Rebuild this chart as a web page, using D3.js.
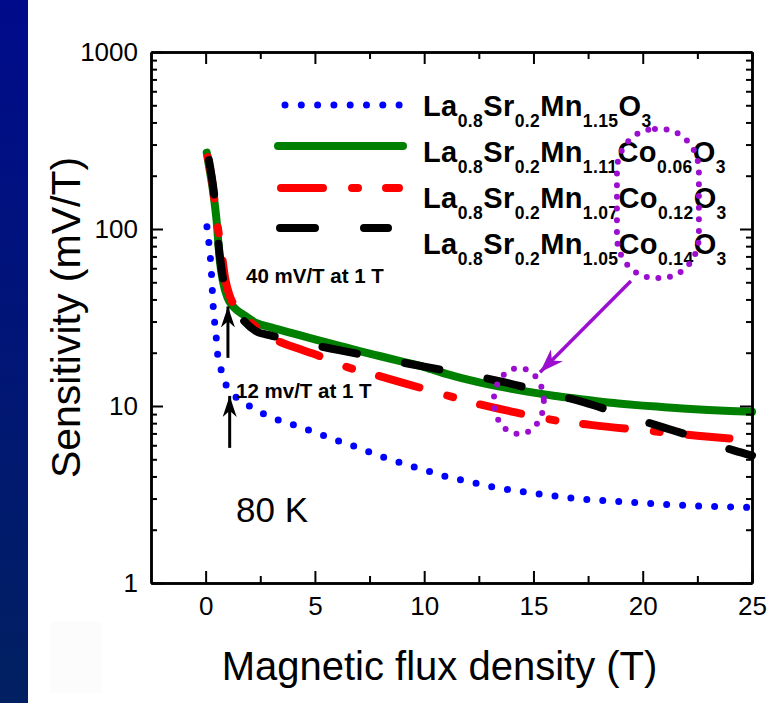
<!DOCTYPE html>
<html>
<head>
<meta charset="utf-8">
<script src="https://cdn.jsdelivr.net/npm/d3@7"></script>
<style>
  body { margin: 0; background: #ffffff; }
  svg { display: block; }
  text { font-family: "Liberation Sans", Arial, sans-serif; }
</style>
</head>
<body>
<div class="sensitivity-chart"></div>
<script>

// ---- data (T, mV/T) ----
const fieldMn115 = [0.06, 0.15, 0.22, 0.27, 0.31, 0.35, 0.42, 0.5, 0.56, 0.75, 0.95, 1.4, 2, 2.75, 3.5, 4.2, 5, 6, 7, 8, 9, 10, 11, 12, 13, 14, 15, 16, 17, 18, 19, 20, 21, 22, 23, 24, 25]
const sensMn115 = [103, 83, 68, 55, 44, 36, 29, 23.3, 19, 15.5, 13, 11.2, 10, 8.9, 8.2, 7.7, 7.1, 6.4, 5.8, 5.2, 4.75, 4.35, 4.0, 3.75, 3.52, 3.35, 3.22, 3.1, 3.0, 2.93, 2.88, 2.83, 2.78, 2.74, 2.71, 2.69, 2.67]

const fieldCo006 = [0.05, 0.2, 0.35, 0.5, 0.65, 0.8, 1, 1.3, 1.7, 2.3, 3, 4, 5, 6, 7, 8, 9, 10, 11, 12, 13, 14, 15, 16, 17, 18, 19, 20, 21, 22, 23, 24, 25]
const sensCo006 = [270, 210, 160, 112, 66, 50, 41, 36, 33, 29.5, 27.8, 25.7, 23.8, 22.1, 20.5, 19.1, 17.8, 16.6, 15.2, 14.1, 13.2, 12.5, 11.9, 11.4, 11.0, 10.6, 10.3, 10.05, 9.85, 9.65, 9.5, 9.38, 9.28]

const fieldCo012 = [0.1, 0.3, 0.5, 0.72, 0.9, 1.1, 1.5, 2, 2.5, 3.4, 4, 5, 6.6, 8, 10, 12.7, 14, 15.1, 16, 17.7, 20, 22.5, 24.3, 25]
const sensCo012 = [255, 185, 115, 75, 52, 42, 35, 30, 27, 23, 21.6, 19.6, 16.4, 14.7, 12.5, 10.1, 9.3, 8.7, 8.3, 7.8, 7.3, 6.8, 6.5, 6.4]

const fieldCo014 = [0.15, 0.4, 0.6, 0.8, 1, 1.5, 2.3, 3, 4, 5, 6.1, 8, 10, 12, 13.6, 15, 17.3, 19, 20.9, 22, 24.2, 25]
const sensCo014 = [245, 152, 80, 52, 41, 33, 26.5, 25, 23.5, 22, 20.7, 18.6, 16.7, 15.0, 13.7, 12.4, 10.5, 9.0, 7.6, 6.9, 5.6, 5.25]

const xMajorTicks = [0, 5, 10, 15, 20, 25]
const xMinorTicks = [2.5, 7.5, 12.5, 17.5, 22.5]
const yMajorTicks = [1, 10, 100, 1000]
const yMinorTicks = [2, 3, 4, 5, 6, 7, 8, 9, 20, 30, 40, 50, 60, 70, 80, 90, 200, 300, 400, 500, 600, 700, 800, 900]

const seriesNames = ["Mn115", "Co006", "Co012", "Co014"]
const seriesColors = ["#0000ff", "#008000", "#ff0000", "#000000"]
const legendLabels = [
    [["La", "0.8"], ["Sr", "0.2"], ["Mn", "1.15"], ["O", "3"]],
    [["La", "0.8"], ["Sr", "0.2"], ["Mn", "1.11"], ["Co", "0.06"], ["O", "3"]],
    [["La", "0.8"], ["Sr", "0.2"], ["Mn", "1.07"], ["Co", "0.12"], ["O", "3"]],
    [["La", "0.8"], ["Sr", "0.2"], ["Mn", "1.05"], ["Co", "0.14"], ["O", "3"]]
]

// annotation arrows (T, mV/T): [x0, y0, x1 (tip), y1 (tip)]
const blackArrows = [[1.02, 18.7, 1.02, 36.5], [1.1, 5.8, 1.1, 11.4]]
const purpleArrow = [19.46, 50.9, 15.3, 15.5]

const width = 773
const height = 703
const margin = { top: 52, right: 21, bottom: 120, left: 151 }

const zip = (xs, ys) => xs.map((x, i) => ({ field: x, sens: ys[i] }))
const seriesData = [
    zip(fieldMn115, sensMn115),
    zip(fieldCo006, sensCo006),
    zip(fieldCo012, sensCo012),
    zip(fieldCo014, sensCo014)
]

const x = d3.scaleLinear()
    .domain([-2.5, 25])
    .range([margin.left, width - margin.right])
const y = d3.scaleLog()
    .domain([1, 1000])
    .range([height - margin.bottom, margin.top])

const svg = d3.select(".sensitivity-chart")
    .append("svg")
    .attr("width", width)
    .attr("height", height)

const defs = svg.append("defs")
const grad = defs.append("linearGradient")
    .attr("id", "sideGrad")
    .attr("x1", 0).attr("y1", 0).attr("x2", 0).attr("y2", 1)
grad.append("stop").attr("offset", "0%").attr("stop-color", "#000b8b")
grad.append("stop").attr("offset", "100%").attr("stop-color", "#012061")

function addHead(id, color, len, wide) {
    defs.append("marker")
        .attr("id", id)
        .attr("viewBox", "0 0 10 10")
        .attr("preserveAspectRatio", "none")
        .attr("refX", 10).attr("refY", 5)
        .attr("markerUnits", "userSpaceOnUse")
        .attr("markerWidth", len).attr("markerHeight", wide)
        .attr("orient", "auto")
        .append("path")
        .attr("d", "M0,0 L10,5 L0,10 L3,5 Z")
        .attr("fill", color)
}
addHead("headBlack", "#000", 21, 14)
addHead("headPurple", "#9b0ecf", 24, 17)

// background + blue side strip
svg.append("rect").attr("width", width).attr("height", height).attr("fill", "#ffffff")
svg.append("rect").attr("x", 0).attr("y", 0).attr("width", 28).attr("height", height).attr("fill", "url(#sideGrad)")
svg.append("rect").attr("x", 50).attr("y", 622).attr("width", 52).attr("height", 71).attr("fill", "#fcfcfc")

// curves
const line = d3.line()
    .x(d => x(d.field))
    .y(d => y(d.sens))
    .curve(d3.curveMonotoneX)

const dashes = ["0 16", null, "42 29 6 28", "35 49"]
const widths = [7, 8, 8, 8]

svg.selectAll("path.curve")
    .data(seriesData)
    .join("path")
    .attr("class", "curve")
    .attr("fill", "none")
    .attr("stroke", (d, i) => seriesColors[i])
    .attr("stroke-width", (d, i) => widths[i])
    .attr("stroke-dasharray", (d, i) => dashes[i])
    .attr("stroke-linecap", "round")
    .attr("stroke-linejoin", "round")
    .attr("d", d => line(d))

// axes (ticks inside, mirrored on top/right)
function styleAxis(g) {
    g.select(".domain").attr("stroke", "#000").attr("stroke-width", 2.5)
    g.selectAll(".tick line").attr("stroke", "#000").attr("stroke-width", 2)
    g.selectAll(".tick text")
        .attr("fill", "#000")
        .attr("font-size", 26)
        .attr("font-family", "'Liberation Sans', Arial, sans-serif")
}

const bottomY = height - margin.bottom
const rightX = width - margin.right

svg.append("g")
    .attr("transform", `translate(0, ${bottomY})`)
    .call(d3.axisBottom(x).tickValues(xMajorTicks).tickSize(-12).tickSizeOuter(0).tickPadding(14).tickFormat(d3.format("d")))
    .call(styleAxis)
svg.append("g")
    .attr("transform", `translate(0, ${bottomY})`)
    .call(d3.axisBottom(x).tickValues(xMinorTicks).tickSize(-7).tickSizeOuter(0).tickFormat(""))
    .call(styleAxis)
svg.append("g")
    .attr("transform", `translate(0, ${margin.top})`)
    .call(d3.axisTop(x).tickValues(xMajorTicks).tickSize(-12).tickSizeOuter(0).tickFormat(""))
    .call(styleAxis)
svg.append("g")
    .attr("transform", `translate(0, ${margin.top})`)
    .call(d3.axisTop(x).tickValues(xMinorTicks).tickSize(-7).tickSizeOuter(0).tickFormat(""))
    .call(styleAxis)

svg.append("g")
    .attr("transform", `translate(${margin.left}, 0)`)
    .call(d3.axisLeft(y).tickValues(yMajorTicks).tickSize(-12).tickSizeOuter(0).tickPadding(13).tickFormat(d3.format("d")))
    .call(styleAxis)
svg.append("g")
    .attr("transform", `translate(${margin.left}, 0)`)
    .call(d3.axisLeft(y).tickValues(yMinorTicks).tickSize(-6).tickSizeOuter(0).tickFormat(""))
    .call(styleAxis)
svg.append("g")
    .attr("transform", `translate(${rightX}, 0)`)
    .call(d3.axisRight(y).tickValues(yMajorTicks).tickSize(-12).tickSizeOuter(0).tickFormat(""))
    .call(styleAxis)
svg.append("g")
    .attr("transform", `translate(${rightX}, 0)`)
    .call(d3.axisRight(y).tickValues(yMinorTicks).tickSize(-6).tickSizeOuter(0).tickFormat(""))
    .call(styleAxis)

// axis titles
svg.append("text")
    .text("Magnetic flux density (T)")
    .attr("x", (margin.left + rightX) / 2 - 12)
    .attr("y", 680)
    .attr("text-anchor", "middle")
    .attr("font-size", 40)
    .attr("fill", "#000")

svg.append("text")
    .text("Sensitivity (mV/T)")
    .attr("transform", `translate(80, ${(margin.top + bottomY) / 2}) rotate(-90)`)
    .attr("text-anchor", "middle")
    .attr("font-size", 41)
    .attr("fill", "#000")

// legend
const legendSampleY = [105, 146, 188, 228]
const legendTextY = [116, 162, 208, 254]
const legendSamples = [[285, 400], [278, 403], [281, 399], [280, 388]]

svg.selectAll("line.legend")
    .data(seriesNames)
    .join("line")
    .attr("class", "legend")
    .attr("x1", (d, i) => legendSamples[i][0])
    .attr("x2", (d, i) => legendSamples[i][1])
    .attr("y1", (d, i) => legendSampleY[i])
    .attr("y2", (d, i) => legendSampleY[i])
    .attr("stroke", (d, i) => seriesColors[i])
    .attr("stroke-width", (d, i) => widths[i])
    .attr("stroke-dasharray", (d, i) => i === 0 ? "0 16.3" : dashes[i])
    .attr("stroke-linecap", "round")

const legendText = svg.selectAll("text.legend")
    .data(legendLabels)
    .join("text")
    .attr("class", "legend")
    .attr("x", 423)
    .attr("y", (d, i) => legendTextY[i])
    .attr("font-size", 29)
    .attr("font-weight", "bold")
    .attr("letter-spacing", 0.4)
    .attr("fill", "#000")

legendText.each(function (parts) {
    const t = d3.select(this)
    parts.forEach((p, j) => {
        t.append("tspan").text(p[0]).attr("font-size", 29).attr("dy", j === 0 ? 0 : -11)
        t.append("tspan").text(p[1]).attr("font-size", 17.5).attr("dy", 11)
    })
})

// purple dotted outlines
svg.append("rect")
    .attr("x", x(18.82))
    .attr("y", y(367))
    .attr("width", x(22.57) - x(18.82))
    .attr("height", y(52.9) - y(367))
    .attr("rx", 38)
    .attr("ry", 42)
    .attr("fill", "none")
    .attr("stroke", "#9b0ecf")
    .attr("stroke-width", 6)
    .attr("stroke-dasharray", "0 11.7")
    .attr("stroke-linecap", "round")

svg.append("ellipse")
    .attr("cx", x(14.33))
    .attr("cy", y(10.67))
    .attr("rx", (x(15.48) - x(13.19)) / 2)
    .attr("ry", (y(6.95) - y(16.4)) / 2)
    .attr("fill", "none")
    .attr("stroke", "#9b0ecf")
    .attr("stroke-width", 6)
    .attr("stroke-dasharray", "0 12")
    .attr("stroke-linecap", "round")

svg.append("line")
    .attr("x1", x(purpleArrow[0]))
    .attr("y1", y(purpleArrow[1]))
    .attr("x2", x(purpleArrow[2]))
    .attr("y2", y(purpleArrow[3]))
    .attr("stroke", "#9b0ecf")
    .attr("stroke-width", 3.5)
    .attr("marker-end", "url(#headPurple)")

// black arrows + notes
svg.selectAll("line.note")
    .data(blackArrows)
    .join("line")
    .attr("class", "note")
    .attr("x1", d => x(d[0]))
    .attr("y1", d => y(d[1]))
    .attr("x2", d => x(d[2]))
    .attr("y2", d => y(d[3]))
    .attr("stroke", "#000")
    .attr("stroke-width", 3)
    .attr("marker-end", "url(#headBlack)")

svg.append("text")
    .text("40 mV/T at 1 T")
    .attr("x", 246)
    .attr("y", 283)
    .attr("font-size", 20.5)
    .attr("font-weight", "bold")
    .attr("fill", "#000")

svg.append("text")
    .text("12 mv/T at 1 T")
    .attr("x", 236)
    .attr("y", 398)
    .attr("font-size", 20.5)
    .attr("font-weight", "bold")
    .attr("fill", "#000")

svg.append("text")
    .text("80 K")
    .attr("x", 236)
    .attr("y", 522)
    .attr("font-size", 35)
    .attr("fill", "#000")

</script>
</body>
</html>
